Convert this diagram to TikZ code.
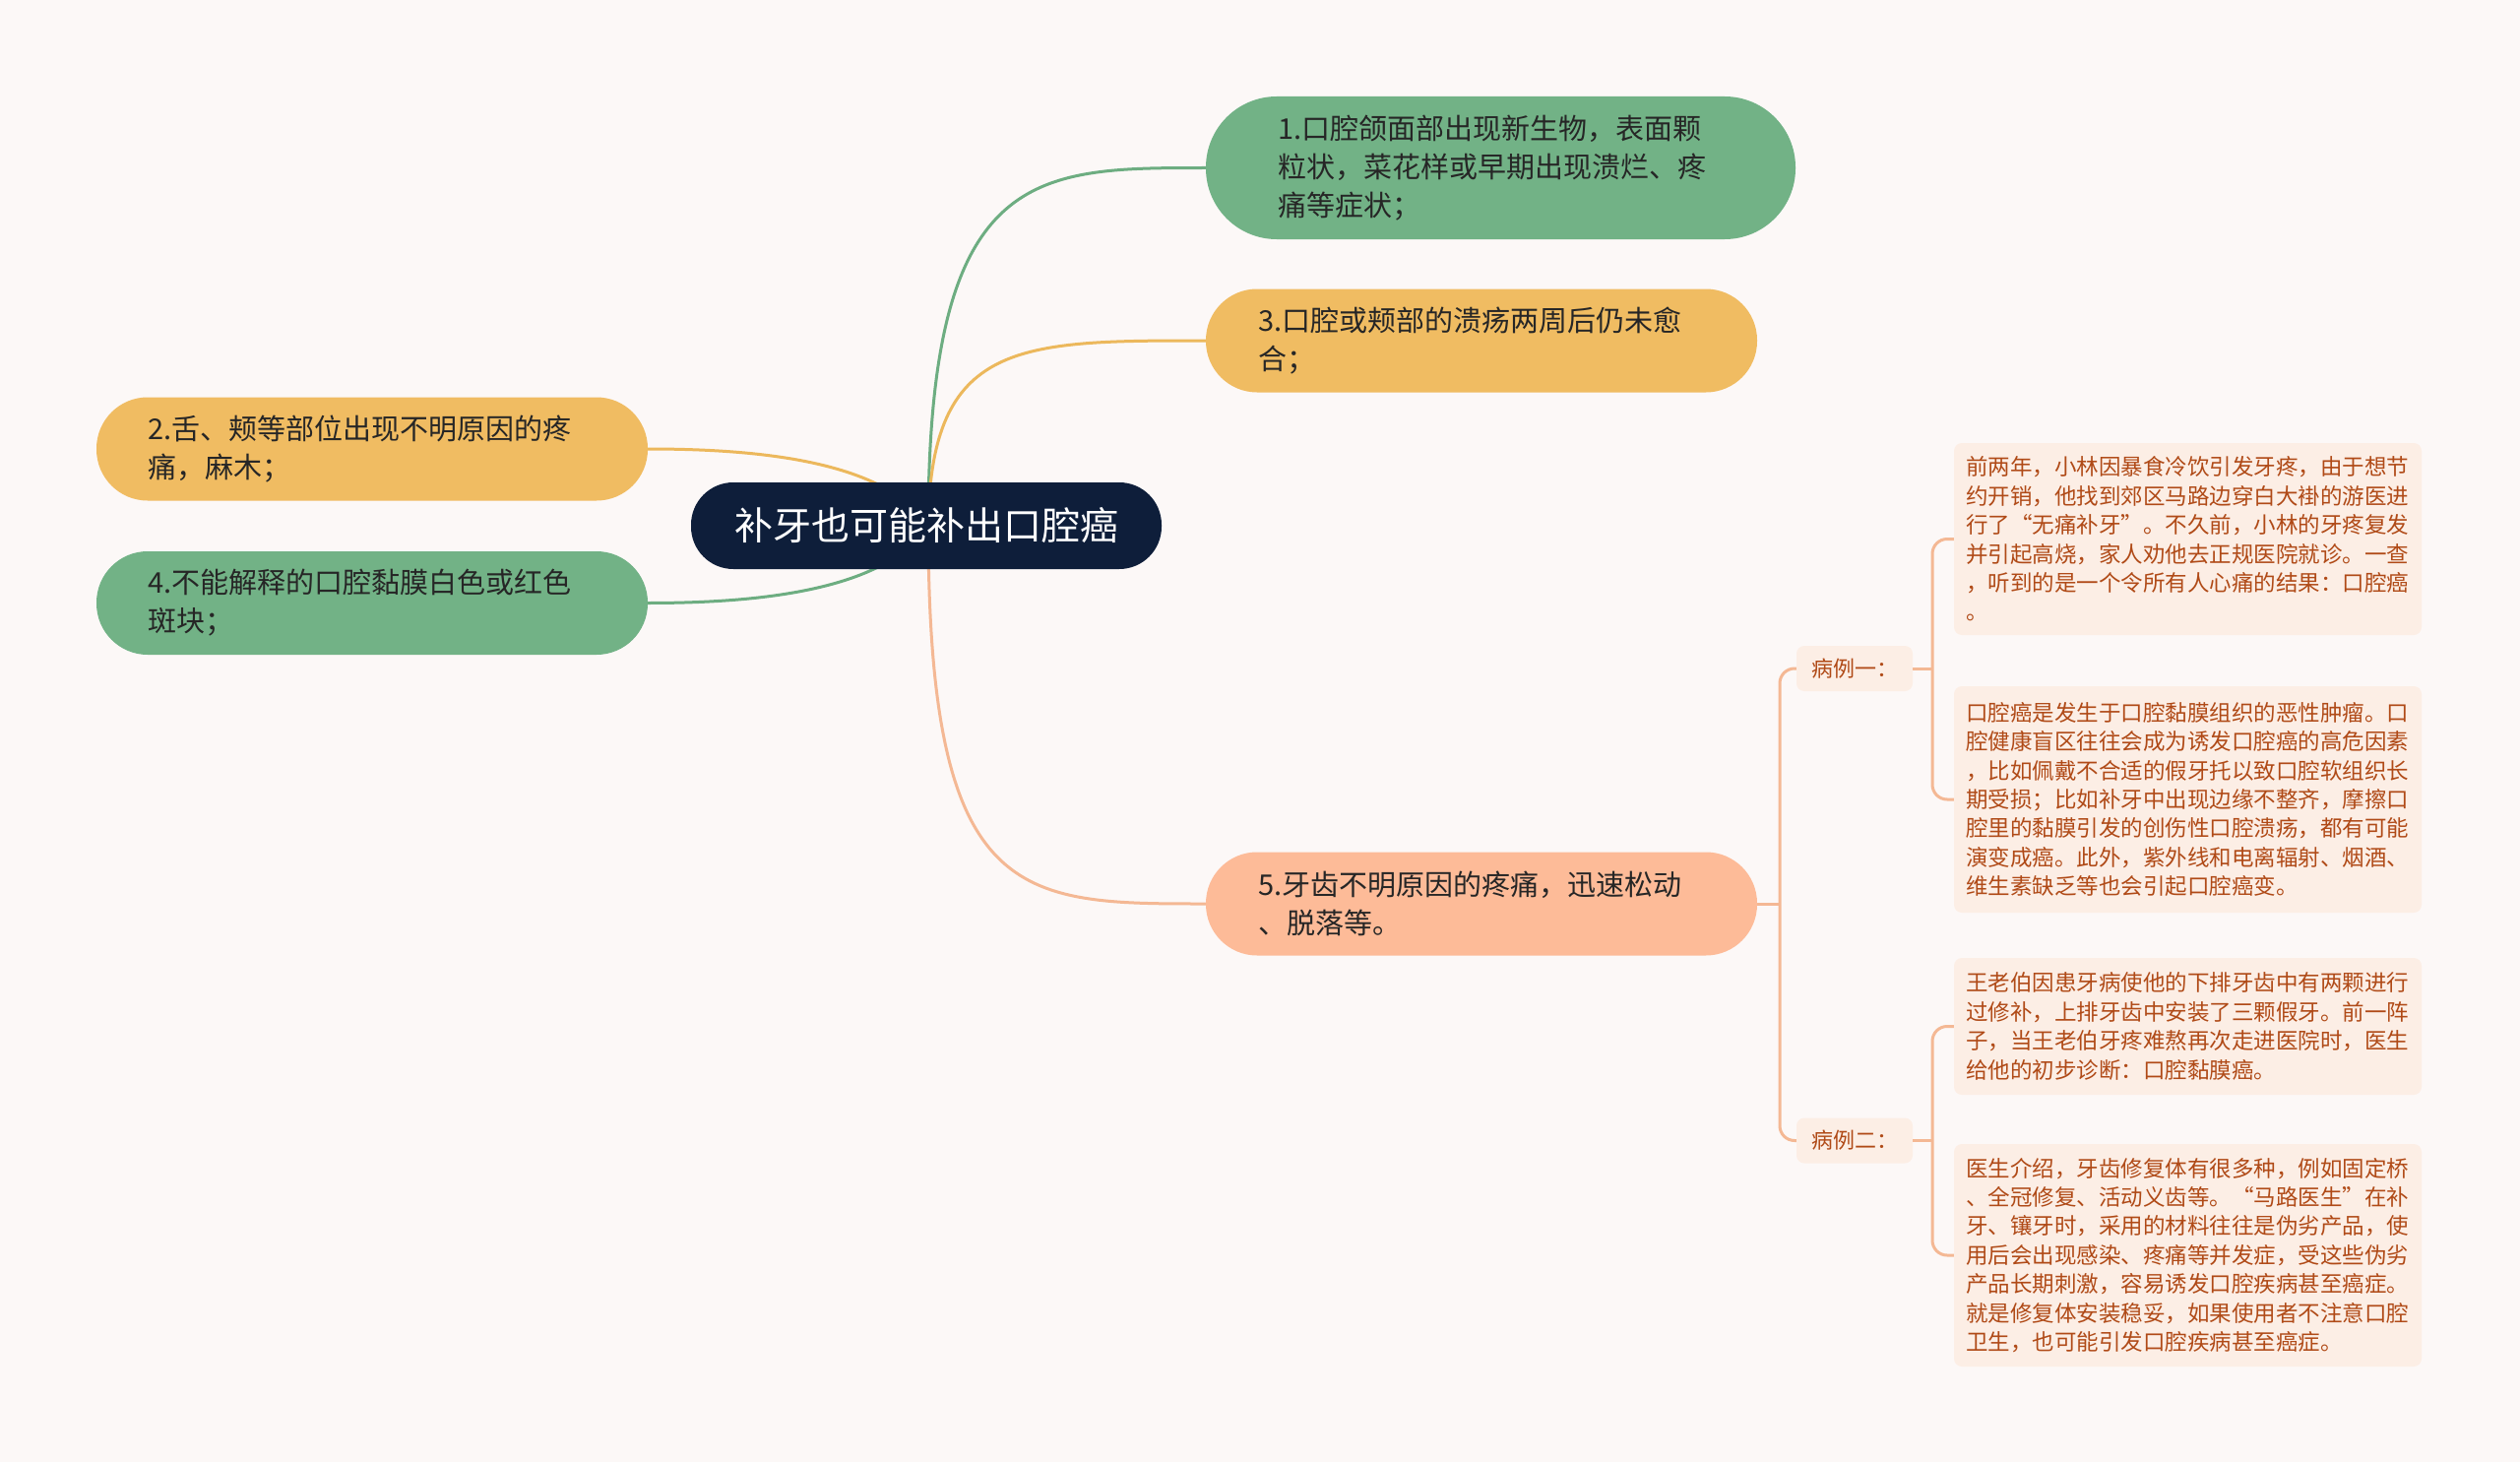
\documentclass[tikz,border=0pt]{standalone}
\usepackage{fontspec}
\setmainfont{Noto Sans CJK SC}
\usepackage{tikz}

\definecolor{bgcol}{HTML}{FCF8F7}
\definecolor{navy}{HTML}{0E1E3A}
\definecolor{leafgreen}{HTML}{72B286}
\definecolor{leafyellow}{HTML}{F0BC62}
\definecolor{leafpeach}{HTML}{FDBB98}
\definecolor{casefill}{HTML}{FCEEE5}
\definecolor{casetext}{HTML}{B04A17}
\definecolor{greenline}{HTML}{6DAD81}
\definecolor{yellowline}{HTML}{ECB85C}
\definecolor{peachline}{HTML}{F4B894}

\begin{document}
\begin{tikzpicture}[x=1pt,y=-1pt,
	leaf/.style={rounded corners=52pt,inner ysep=0pt,align=left,text=black!85,minimum height=105pt,font=\fontsize{29}{39}\selectfont},
	caselabel/.style={fill=casefill,rounded corners=8pt,text=casetext,minimum width=118pt,minimum height=46pt,inner sep=0pt,font=\fontsize{22}{28}\selectfont},
	casebox/.style={fill=casefill,rounded corners=8pt,text=casetext,align=left,inner xsep=12pt,text width=451pt,font=\fontsize{22.5}{29.4}\selectfont},
	link/.style={line width=3pt}]
			\fill[bgcol] (0,0) rectangle (2560,1485);
			\useasboundingbox (0,0) rectangle (2560,1485);
			\coordinate (rc) at (943,534);
			\node[leaf, fill=leafgreen, minimum height=145pt, rounded corners=72pt, inner xsep=73pt, text width=453pt] (n1) at (1524.5,170.5) {1.口腔颌面部出现新生物，表面颗\\粒状，菜花样或早期出现溃烂、疼\\痛等症状；};
			\node[leaf, fill=leafyellow, inner xsep=53pt, text width=454pt] (n3) at (1505,346) {3.口腔或颊部的溃疡两周后仍未愈\\合；};
			\node[leaf, fill=leafyellow, inner xsep=52pt, text width=456pt] (n2) at (378,456) {2.舌、颊等部位出现不明原因的疼\\痛，麻木；};
			\node[leaf, fill=leafgreen, inner xsep=52pt, text width=456pt] (n4) at (378,612.5) {4.不能解释的口腔黏膜白色或红色\\斑块；};
			\node[leaf, fill=leafpeach, inner xsep=53pt, text width=454pt] (n5) at (1505,918) {5.牙齿不明原因的疼痛，迅速松动\\、脱落等。};
			\node[caselabel] (c1) at (1884,679) {病例一：};
			\node[caselabel] (c2) at (1884,1158.5) {病例二：};
			\node[casebox, minimum height=195pt] (ta) at (2222.5,547.5) {前两年，小林因暴食冷饮引发牙疼，由于想节\\约开销，他找到郊区马路边穿白大褂的游医进\\行了“无痛补牙”。不久前，小林的牙疼复发\\并引起高烧，家人劝他去正规医院就诊。一查\\，听到的是一个令所有人心痛的结果：口腔癌\\。};
			\node[casebox, minimum height=230pt] (tb) at (2222.5,812) {口腔癌是发生于口腔黏膜组织的恶性肿瘤。口\\腔健康盲区往往会成为诱发口腔癌的高危因素\\，比如佩戴不合适的假牙托以致口腔软组织长\\期受损；比如补牙中出现边缘不整齐，摩擦口\\腔里的黏膜引发的创伤性口腔溃疡，都有可能\\演变成癌。此外，紫外线和电离辐射、烟酒、\\维生素缺乏等也会引起口腔癌变。};
			\node[casebox, minimum height=139pt] (tc) at (2222.5,1042.5) {王老伯因患牙病使他的下排牙齿中有两颗进行\\过修补，上排牙齿中安装了三颗假牙。前一阵\\子，当王老伯牙疼难熬再次走进医院时，医生\\给他的初步诊断：口腔黏膜癌。};
			\node[casebox, minimum height=226pt] (td) at (2222.5,1275) {医生介绍，牙齿修复体有很多种，例如固定桥\\、全冠修复、活动义齿等。“马路医生”在补\\牙、镶牙时，采用的材料往往是伪劣产品，使\\用后会出现感染、疼痛等并发症，受这些伪劣\\产品长期刺激，容易诱发口腔疾病甚至癌症。\\就是修复体安装稳妥，如果使用者不注意口腔\\卫生，也可能引发口腔疾病甚至癌症。};
			\draw[link, greenline] (rc) .. controls +(0,-364) and +(-175,0) .. (n1.west);
			\draw[link, yellowline] (rc) .. controls +(2,-188) and +(-190,0) .. (n3.west);
			\draw[link, yellowline] (rc) .. controls +(-43,-64) and +(120,0) .. (n2.east);
			\draw[link, greenline] (rc) .. controls +(-43,64) and +(120,0) .. (n4.east);
			\draw[link, peachline] (rc) .. controls +(0,384) and +(-190,0) .. (n5.west);
			\coordinate (j5) at (1808,918);
			\coordinate (j1) at (1963,679);
			\coordinate (j2) at (1963,1158.5);
			\draw[link, peachline] (n5.east) -- (j5);
			\draw[link, peachline, rounded corners=15pt] (c1.west) -| (j5) |- (c2.west);
			\draw[link, peachline] (c1.east) -- (j1);
			\draw[link, peachline, rounded corners=15pt] (ta.west) -| (j1) |- (tb.west);
			\draw[link, peachline] (c2.east) -- (j2);
			\draw[link, peachline, rounded corners=15pt] (tc.west) -| (j2) |- (td.west);
			\node[fill=navy, text=white, rounded corners=43pt, minimum width=478pt, minimum height=88pt, font=\fontsize{39}{45}\selectfont] (root) at (941,534) {补牙也可能补出口腔癌};
\end{tikzpicture}
\end{document}
